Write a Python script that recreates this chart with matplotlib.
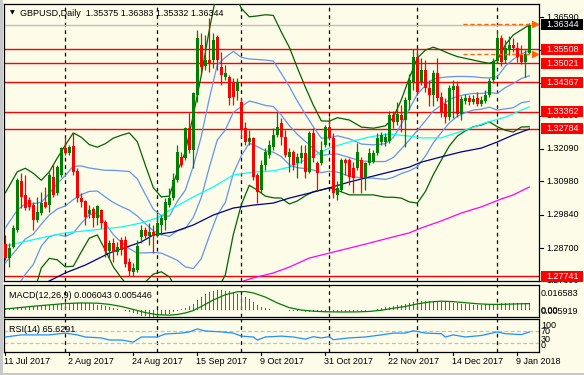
import matplotlib
matplotlib.use("Agg")
import matplotlib.pyplot as plt
import matplotlib.transforms as mtransforms
from matplotlib.patches import Rectangle
from matplotlib.lines import Line2D
import numpy as np

plt.rcParams['font.family'] = ['Liberation Sans', 'DejaVu Sans']

# ---------------- data ----------------
symbol_title = "GBPUSD,Daily  1.35375 1.36383 1.35332 1.36344"

opens = [1.2884,1.2836,1.2874,1.2932,1.3100,1.3052,1.3035,1.3017,1.2966,1.2990,
         1.3028,1.3017,1.3113,1.3058,1.3120,1.3212,1.3195,1.3219,1.3134,1.3041,
         1.3031,1.2987,1.3004,1.2973,1.3000,1.2959,1.2860,1.2887,1.2857,1.2898,
         1.2898,1.2823,1.2788,1.2795,1.2908,1.2932,1.2911,1.2925,1.2911,1.2949,
         1.2966,1.3017,1.3041,1.3103,1.3182,1.3178,1.3281,1.3206,1.3394,1.3565,
         1.3493,1.3513,1.3513,1.3592,1.3489,1.3455,1.3455,1.3438,1.3407,1.3370,
         1.3281,1.3233,1.3247,1.3120,1.3069,1.3154,1.3188,1.3216,1.3257,1.3298,
         1.3250,1.3182,1.3199,1.3161,1.3178,1.3195,1.3130,1.3264,1.3161,1.3161,
         1.3223,1.3284,1.3247,1.3052,1.3069,1.3171,1.3171,1.3144,1.3144,1.3171,
         1.3110,1.3161,1.3164,1.3195,1.3233,1.3233,1.3236,1.3325,1.3301,1.3325,
         1.3308,1.3377,1.3438,1.3524,1.3438,1.3479,1.3418,1.3394,1.3469,1.3387,
         1.3363,1.3318,1.3411,1.3424,1.3329,1.3373,1.3383,1.3370,1.3383,1.3363,
         1.3373,1.3394,1.3445,1.3510,1.3589,1.3513,1.3548,1.3565,1.3554,1.3530,
         1.3506,1.35375]
highs = [1.2915,1.2887,1.2949,1.3110,1.3127,1.3120,1.3045,1.3028,1.3045,1.3062,
         1.3079,1.3130,1.3158,1.3154,1.3216,1.3250,1.3223,1.3264,1.3144,1.3058,
         1.3035,1.3017,1.3011,1.3017,1.3004,1.2966,1.2898,1.2905,1.2891,1.2908,
         1.2911,1.2836,1.2819,1.2898,1.2949,1.2942,1.2956,1.2949,1.2990,1.2983,
         1.3041,1.3076,1.3127,1.3223,1.3199,1.3284,1.3332,1.3404,1.3616,1.3606,
         1.3599,1.3656,1.3606,1.3599,1.3541,1.3496,1.3462,1.3452,1.3452,1.3383,
         1.3301,1.3274,1.3250,1.3127,1.3171,1.3212,1.3240,1.3281,1.3336,1.3315,
         1.3274,1.3212,1.3206,1.3195,1.3223,1.3223,1.3271,1.3281,1.3168,1.3236,
         1.3291,1.3318,1.3264,1.3100,1.3178,1.3178,1.3178,1.3164,1.3230,1.3182,
         1.3164,1.3212,1.3206,1.3264,1.3267,1.3264,1.3339,1.3339,1.3370,1.3359,
         1.3387,1.3465,1.3551,1.3554,1.3520,1.3513,1.3445,1.3479,1.3520,1.3404,
         1.3383,1.3428,1.3445,1.3441,1.3390,1.3397,1.3394,1.3394,1.3404,1.3390,
         1.3411,1.3452,1.3520,1.3616,1.3599,1.3582,1.3595,1.3589,1.3576,1.3565,
         1.3548,1.36383]
lows = [1.2829,1.2805,1.2870,1.2925,1.3007,1.3000,1.3000,1.2932,1.2959,1.2983,
        1.3007,1.2994,1.3045,1.3052,1.3113,1.3188,1.3188,1.3120,1.3028,1.3011,
        1.2949,1.2973,1.2942,1.2949,1.2939,1.2840,1.2836,1.2823,1.2846,1.2846,
        1.2805,1.2775,1.2774,1.2788,1.2887,1.2905,1.2881,1.2853,1.2908,1.2915,
        1.2932,1.3011,1.3035,1.3096,1.3147,1.3171,1.3195,1.3144,1.3370,1.3462,
        1.3479,1.3472,1.3486,1.3479,1.3428,1.3445,1.3359,1.3359,1.3377,1.3247,
        1.3223,1.3223,1.3103,1.3024,1.3058,1.3137,1.3178,1.3206,1.3250,1.3223,
        1.3182,1.3130,1.3137,1.3110,1.3161,1.3110,1.3127,1.3164,1.3069,1.3154,
        1.3216,1.3240,1.3041,1.3035,1.3062,1.3120,1.3086,1.3058,1.3137,1.3058,
        1.3069,1.3154,1.3161,1.3188,1.3223,1.3219,1.3229,1.3281,1.3291,1.3267,
        1.3216,1.3342,1.3411,1.3394,1.3428,1.3404,1.3356,1.3356,1.3373,1.3318,
        1.3298,1.3308,1.3315,1.3318,1.3308,1.3363,1.3359,1.3363,1.3356,1.3356,
        1.3366,1.3387,1.3435,1.3503,1.3493,1.3503,1.3530,1.3541,1.3506,1.3500,
        1.3455,1.35332]
closes = [1.2836,1.2870,1.2939,1.3103,1.3045,1.3007,1.3011,1.2966,1.2994,1.3024,
          1.3011,1.3120,1.3052,1.3147,1.3212,1.3195,1.3216,1.3130,1.3041,1.3028,
          1.2976,1.3000,1.2973,1.3014,1.2956,1.2860,1.2887,1.2857,1.2874,1.2864,
          1.2816,1.2792,1.2802,1.2877,1.2932,1.2911,1.2925,1.2911,1.2956,1.2973,
          1.3028,1.3041,1.3103,1.3199,1.3154,1.3281,1.3206,1.3400,1.3589,1.3489,
          1.3513,1.3500,1.3582,1.3513,1.3462,1.3469,1.3383,1.3387,1.3438,1.3274,
          1.3233,1.3247,1.3113,1.3062,1.3154,1.3199,1.3223,1.3257,1.3284,1.3250,
          1.3188,1.3199,1.3154,1.3182,1.3195,1.3130,1.3264,1.3178,1.3127,1.3206,
          1.3284,1.3247,1.3058,1.3076,1.3171,1.3161,1.3113,1.3110,1.3199,1.3110,
          1.3161,1.3195,1.3195,1.3247,1.3257,1.3250,1.3325,1.3301,1.3329,1.3308,
          1.3377,1.3445,1.3524,1.3404,1.3479,1.3418,1.3394,1.3469,1.3383,1.3335,
          1.3318,1.3418,1.3424,1.3329,1.3380,1.3383,1.3370,1.3380,1.3363,1.3377,
          1.3394,1.3442,1.3510,1.3589,1.3506,1.3554,1.3565,1.3554,1.3524,1.3506,
          1.3534,1.36344]

date_ticks = [0, 16, 32, 48, 64, 80, 96, 112, 128]
date_labels = ["11 Jul 2017", "2 Aug 2017", "24 Aug 2017", "15 Sep 2017", "9 Oct 2017",
               "31 Oct 2017", "22 Nov 2017", "14 Dec 2017", "9 Jan 2018"]
grid_bars = [15, 38, 59, 81, 103, 123]

# price scale ticks (labels of 1.35460 and 1.34340 sit fully under the level boxes)
price_ticks = [1.36590, 1.35460, 1.34340, 1.33230, 1.32090, 1.30980, 1.29840, 1.28700, 1.27590]
hidden_ticks = [1.35460, 1.34340]
sr_levels = [1.35508, 1.35021, 1.34367, 1.33362, 1.32784, 1.27741]
bid_price = 1.36344
trade_levels = [1.3636, 1.3533]

# Bollinger bands (middle line and one standard deviation)
bb_bars = [0,3,5,7,9,11,13,15,17,19,21,23,25,27,29,31,33,35,37,39,41,43,45,47,49,
           51,53,55,57,59,61,63,65,67,69,71,73,75,77,79,81,83,86,89,92,95,
           97,99,101,103,105,107,109,111,113,115,117,119,121,123,125,127,129,131]
bb_mid = [1.2819,1.2869,1.2901,1.2918,1.2952,1.2983,1.3004,1.3014,1.3036,1.3053,1.3064,1.3065,
          1.3045,1.3026,1.3012,1.3000,1.2980,1.2954,1.2929,1.2917,1.2910,1.2929,1.2937,1.2975,
          1.3043,1.3146,1.3240,1.3274,1.3334,1.3354,1.3373,1.3366,1.3358,1.3354,1.3325,1.3289,
          1.3259,1.3235,1.3211,1.3187,1.3190,1.3192,1.3180,1.3168,1.3166,1.3166,1.3180,1.3209,
          1.3240,1.3272,1.3305,1.3339,1.3359,1.3377,1.3389,1.3395,1.3399,1.3399,1.3402,1.3399,
          1.3419,1.3433,1.3450,1.3459]
bb_dev = [0.0120,0.0131,0.0121,0.0104,0.0075,0.0074,0.0087,0.0104,0.0114,0.0098,0.0080,0.0075,
          0.0091,0.0110,0.0122,0.0132,0.0127,0.0100,0.0074,0.0064,0.0069,0.0101,0.0131,0.0175,
          0.0209,0.0235,0.0257,0.0248,0.0209,0.0168,0.0144,0.0149,0.0155,0.0156,0.0142,0.0134,
          0.0114,0.0093,0.0074,0.0059,0.0057,0.0062,0.0064,0.0058,0.0057,0.0061,0.0068,0.0084,
          0.0106,0.0124,0.0121,0.0109,0.0094,0.0079,0.0068,0.0062,0.0057,0.0054,0.0050,0.0057,
          0.0073,0.0083,0.0083,0.0087]

ma_cyan_bars = [0,9,15,22,29,34,38,42,47,52,57,62,67,71,76,81,86,91,96,101,104,109,115,120,125,131]
ma_cyan = [1.2877,1.2905,1.2922,1.2932,1.2942,1.2956,1.2973,1.3007,1.3045,1.3079,1.3120,1.3130,
           1.3134,1.3147,1.3178,1.3212,1.3233,1.3250,1.3260,1.3253,1.3247,1.3247,1.3274,1.3298,
           1.3318,1.3353]
ma_navy_bars = [0,9,15,20,26,34,37,42,47,52,57,62,67,71,76,81,86,91,96,101,104,109,114,119,123,127,131]
ma_navy = [1.2705,1.2744,1.2785,1.2812,1.2853,1.2891,1.2915,1.2925,1.2949,1.2983,1.3007,1.3017,
           1.3024,1.3041,1.3058,1.3076,1.3096,1.3113,1.3130,1.3147,1.3164,1.3182,1.3199,1.3212,
           1.3233,1.3257,1.3277]
ma_mag_bars = [40,50,58,62,67,71,76,81,86,91,96,101,104,109,114,119,124,127,131]
ma_mag = [1.2688,1.2722,1.2751,1.2768,1.2785,1.2805,1.2836,1.2853,1.2870,1.2887,1.2905,1.2922,
          1.2939,1.2963,1.2990,1.3011,1.3038,1.3052,1.3079]

# MACD(12,26,9): main histogram (per bar) and signal line
macd_main = [0.0017,0.0019,0.0021,0.0023,0.0025,0.0026,0.0028,0.0030,0.0033,0.0036,
             0.0039,0.0043,0.0047,0.0052,0.0056,0.0060,0.0061,0.0062,0.0062,0.0061,
             0.0060,0.0056,0.0051,0.0046,0.0040,0.0034,0.0026,0.0018,0.0010,0.0002,
             -0.0008,-0.0018,-0.0028,-0.0038,-0.0048,-0.0055,-0.0059,-0.0057,-0.0052,-0.0046,
             -0.0039,-0.0030,-0.0020,-0.0008,0.0005,0.0018,0.0032,0.0055,0.0086,0.0112,
             0.0137,0.0152,0.0163,0.0167,0.0167,0.0163,0.0158,0.0148,0.0137,0.0124,
             0.0111,0.0095,0.0068,0.0045,0.0026,0.0017,0.0009,0.0004,0.0000,-0.0002,
             -0.0004,-0.0007,-0.0009,-0.0011,-0.0012,-0.0013,-0.0014,-0.0015,-0.0016,-0.0016,
             -0.0017,-0.0018,-0.0017,-0.0017,-0.0017,-0.0017,-0.0016,-0.0014,-0.0012,-0.0010,
             -0.0006,-0.0003,0.0004,0.0010,0.0017,0.0022,0.0026,0.0032,0.0039,0.0045,
             0.0051,0.0060,0.0068,0.0074,0.0077,0.0078,0.0077,0.0075,0.0073,0.0070,
             0.0068,0.0065,0.0060,0.0057,0.0054,0.0051,0.0048,0.0046,0.0044,0.0043,
             0.0047,0.0049,0.0051,0.0053,0.0056,0.0057,0.0057,0.0058,0.0060,0.0060,
             0.0060,0.006043]
macd_sig_bars = [0,8,15,19,23,26,29,32,35,38,41,43,45,47,49,52,55,58,60,62,65,68,71,74,77,
                 80,84,88,91,94,97,100,103,106,109,112,115,118,121,124,128,131]
macd_sig = [0.0009,0.0035,0.0055,0.0060,0.0058,0.0048,0.0030,0.0005,-0.0022,-0.0040,-0.0044,
            -0.0038,-0.0025,-0.0005,0.0030,0.0085,0.0130,0.0155,0.0157,0.0145,0.0110,0.0060,
            0.0020,0.0000,-0.0010,-0.0015,-0.0017,-0.0016,-0.0012,-0.0002,0.0015,0.0030,
            0.0052,0.0068,0.0075,0.0071,0.0062,0.0053,0.0048,0.0048,0.0052,0.005446]

# RSI(14)
rsi_bars = [0,4,7,11,15,18,20,24,26,29,32,34,38,40,44,46,48,50,54,57,59,62,63,65,69,72,
            75,77,79,81,82,86,90,94,97,100,102,105,109,110,112,115,119,123,125,129,131]
rsi_vals = [49,56,56,56,62,56,49,46,39,39,32,49,49,59,62,66,76,69,66,62,52,49,39,49,52,49,
            42,50,46,50,40,46,49,56,62,62,70,62,60,49,56,49,54,66,60,57,65.6291]

# ---------------- figure ----------------
W, H = 584, 375
fig = plt.figure(figsize=(W / 100, H / 100), dpi=100)
BG = '#FCFCE8'
fig.patch.set_facecolor(BG)
XL = (-0.325, 133.425)


def panel(top, bottom, left=4, right=539):
    a = fig.add_axes([left / W, 1 - bottom / H, (right - left) / W, (bottom - top) / H])
    a.set_facecolor(BG)
    for s in a.spines.values():
        s.set_color('black')
        s.set_linewidth(0.9)
    a.set_xticks([])
    a.set_yticks([])
    a.set_xlim(*XL)
    return a


P_TOP, P_BOT = 3.5, 281
ax = panel(P_TOP, P_BOT)
ax.set_ylim(1.27575, 1.37065)
axm = panel(285, 317.3)
axm.set_ylim(-0.0062, 0.02125)
axr = panel(319.3, 351.7)
axr.set_ylim(0, 108)

n = len(closes)
xs = np.arange(n)
o = np.array(opens); h = np.array(highs); l = np.array(lows); c = np.array(closes)

# vertical dashed grid
for a in (ax, axm, axr):
    for g in grid_bars:
        a.axvline(g, color='black', lw=0.9, ls=(0, (3, 3)), zorder=1)

# support / resistance + bid
for v in sr_levels:
    ax.axhline(v, color='#FF0000', lw=1.0, zorder=2)
ax.axhline(bid_price, color='#C0C0C0', lw=1.0, zorder=2)

# indicator lines
bbm = np.array(bb_mid); bbd = np.array(bb_dev)
ax.plot(bb_bars, bbm + 2 * bbd, color='#006400', lw=0.9, zorder=3)
ax.plot(bb_bars, bbm - 2 * bbd, color='#006400', lw=0.9, zorder=3)
ax.plot(bb_bars, bbm + bbd, color='#6495ED', lw=0.9, zorder=3)
ax.plot(bb_bars, bbm, color='#6495ED', lw=0.9, zorder=3)
ax.plot(bb_bars, bbm - bbd, color='#6495ED', lw=0.9, zorder=3)
ax.plot(ma_cyan_bars, ma_cyan, color='#00FFFF', lw=0.9, zorder=3)
ax.plot(ma_navy_bars, ma_navy, color='#000080', lw=0.9, zorder=3)
ax.plot(ma_mag_bars, ma_mag, color='#FF00FF', lw=0.9, zorder=3)

# candles
up = c >= o
cols = np.where(up, '#008000', '#FF0000')
ax.vlines(xs, l, h, colors=cols, lw=0.9, zorder=4)
body_h = np.maximum(np.abs(c - o), 0.00018)
ax.bar(xs, body_h, bottom=np.minimum(o, c), width=0.75, color=cols, lw=0, zorder=5)

# trade level dashed lines with arrows
for v in trade_levels:
    ax.hlines(v, 114.5, 132.4, colors='#FF6600', lw=1.0, linestyles=(0, (3, 2)), zorder=6)
    ax.plot([132.5], [v], marker='>', ms=5, color='#FF6600', mec='#FF6600', zorder=7, clip_on=False)

# MACD
axm.bar(xs, macd_main, width=0.3, color='#9932CC', lw=0, zorder=3)
axm.plot(macd_sig_bars, macd_sig, color='#008000', lw=0.9, zorder=4)

# RSI
for lv in (70, 30):
    axr.axhline(lv, color='#C0C0C0', lw=0.9, ls=(0, (3, 2)), zorder=2)
axr.plot(rsi_bars, rsi_vals, color='#1E90FF', lw=0.9, zorder=3)

FS = 6.5


def ftext(xp, yp, s, **kw):
    fig.text(xp / W, 1 - yp / H, s, fontsize=kw.pop('fontsize', FS), **kw)


# title and panel labels
fig.text(12 / W, 1 - 13 / H, '\u25BC', fontsize=4.5, family='DejaVu Sans', va='center', ha='center')
ftext(20, 13, symbol_title, va='center', ha='left')
ftext(9, 295, "MACD(12,26,9) 0.006043 0.005446", va='center', ha='left')
ftext(9, 330, "RSI(14) 65.6291", va='center', ha='left')

# right price scale
trans = mtransforms.blended_transform_factory(fig.transFigure, ax.transData)
ppx = (ax.get_ylim()[1] - ax.get_ylim()[0]) / (P_BOT - P_TOP)
for v in price_ticks:
    fig.add_artist(Line2D([539 / W, 543 / W], [v, v], transform=trans, color='black', lw=0.8))
    if v in hidden_ticks:
        continue
    fig.text(546 / W, v, f"{v:.5f}", transform=trans, va='center', ha='left', fontsize=FS, zorder=3)
for v in sr_levels:
    fig.add_artist(Rectangle((541 / W, v - 5.5 * ppx), 42 / W, 11 * ppx, transform=trans,
                             fc='#FF0000', ec='none', zorder=5))
    fig.text(546 / W, v, f"{v:.5f}", transform=trans, va='center', ha='left', fontsize=FS,
             color='white', zorder=6)
fig.add_artist(Rectangle((541 / W, bid_price - 5.5 * ppx), 42 / W, 11 * ppx, transform=trans,
                         fc='black', ec='none', zorder=5))
fig.text(546 / W, bid_price, f"{bid_price:.5f}", transform=trans, va='center', ha='left',
         fontsize=FS, color='white', zorder=6)

# MACD / RSI scales
ftext(541, 294, "0.016583", va='center', ha='left')
ftext(541, 310.5, "0.00", va='center', ha='left')
ftext(541, 312, "0.005919", va='center', ha='left')
for lab, yp in (("100", 326), ("70", 332), ("30", 340), ("0", 346)):
    ftext(541, yp, lab, va='center', ha='left')

# date axis
tx = mtransforms.blended_transform_factory(axr.transData, fig.transFigure)
for b, lab in zip(date_ticks, date_labels):
    fig.add_artist(Line2D([b, b], [1 - 351.7 / H, 1 - 355 / H], transform=tx, color='black', lw=0.8))
    fig.text(b - 0.3, 1 - 361.5 / H, lab, transform=tx, va='center', ha='left', fontsize=FS)

# window frame
fig.add_artist(Rectangle((0, 0), 3 / W, 1, transform=fig.transFigure, fc='#C8C8C8', ec='none'))
fig.add_artist(Rectangle((0, 0), 1, 2 / H, transform=fig.transFigure, fc='#C8C8C8', ec='none'))

fig.savefig('out.png', dpi=100, facecolor=BG)
